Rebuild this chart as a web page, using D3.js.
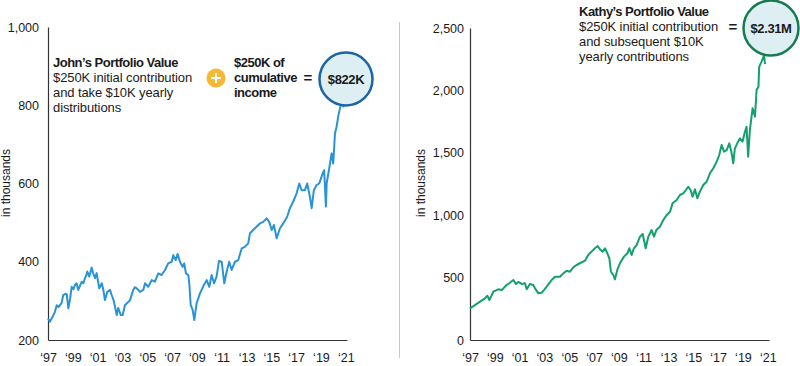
<!DOCTYPE html>
<html>
<head>
<meta charset="utf-8">
<script src="https://cdn.jsdelivr.net/npm/d3@7"></script>
<style>
  html, body { margin: 0; padding: 0; background: #fff; }
  svg { display: block; font-family: "Liberation Sans", Arial, sans-serif; }
</style>
</head>
<body>
<svg id="chart" width="800" height="366"></svg>
<script>
// ---------- DATA ----------
const xTickYears = [1997, 1999, 2001, 2003, 2005, 2007, 2009, 2011, 2013, 2015, 2017, 2019, 2021];
const leftYTicks = [200, 400, 600, 800, 1000];
const rightYTicks = [0, 500, 1000, 1500, 2000, 2500];

// John's portfolio (thousands), year -> value
const johnYears = [1997.00,1997.16,1997.35,1997.56,1997.70,1997.85,1998.10,1998.23,1998.40,1998.51,1998.64,1998.78,1998.91,1999.05,1999.18,1999.30,1999.44,1999.60,1999.72,1999.85,1999.98,2000.08,2000.17,2000.33,2000.52,2000.65,2000.79,2000.92,2001.13,2001.33,2001.45,2001.59,2001.78,2002.00,2002.13,2002.30,2002.40,2002.54,2002.66,2002.86,2003.02,2003.20,2003.40,2003.61,2003.87,2004.00,2004.15,2004.41,2004.68,2004.82,2005.08,2005.36,2005.62,2005.89,2006.16,2006.43,2006.69,2006.97,2007.10,2007.29,2007.45,2007.64,2007.85,2007.98,2008.12,2008.31,2008.40,2008.50,2008.66,2008.79,2008.98,2009.25,2009.57,2009.79,2010.00,2010.19,2010.38,2010.59,2010.78,2011.00,2011.21,2011.40,2011.61,2011.80,2012.07,2012.33,2012.61,2012.87,2013.14,2013.28,2013.54,2013.82,2014.08,2014.35,2014.62,2014.83,2015.03,2015.21,2015.43,2015.69,2015.96,2016.28,2016.50,2016.77,2017.04,2017.25,2017.44,2017.71,2017.89,2018.11,2018.25,2018.43,2018.65,2018.86,2019.14,2019.26,2019.40,2019.46,2019.67,2019.86,2019.99,2020.13,2020.26,2020.39,2020.53,2020.67,2020.85];
const johnValues = [255,247,258,272,289,284,295,315,318,317,281,305,336,330,341,345,328,340,349,345,358,365,375,362,385,370,358,371,332,345,330,302,323,328,315,300,285,264,282,264,264,289,295,302,328,335,332,323,328,345,336,353,349,370,366,379,396,400,417,404,420,400,387,396,370,366,340,290,277,251,294,319,341,353,336,366,345,362,402,400,345,375,400,379,400,404,434,438,447,473,481,490,498,502,511,502,481,494,460,485,498,515,537,554,575,600,583,583,600,566,537,583,596,600,626,634,541,600,639,677,651,728,745,771,792,805,795];

// Kathy's portfolio (thousands), year -> value
const kathyYears = [1997.00,1997.40,1997.81,1998.21,1998.40,1998.56,1998.88,1999.28,1999.55,1999.95,2000.22,2000.49,2000.70,2000.89,2001.16,2001.43,2001.57,2001.83,2002.10,2002.24,2002.51,2002.78,2002.96,2003.18,2003.58,2003.85,2004.25,2004.52,2004.79,2005.06,2005.32,2005.59,2005.86,2006.27,2006.53,2006.80,2007.07,2007.29,2007.47,2007.69,2007.88,2008.07,2008.23,2008.36,2008.55,2008.68,2008.87,2009.09,2009.41,2009.68,2009.84,2010.03,2010.21,2010.43,2010.70,2010.92,2011.02,2011.16,2011.37,2011.64,2011.83,2012.02,2012.31,2012.58,2012.85,2013.12,2013.33,2013.66,2013.92,2014.19,2014.40,2014.59,2014.78,2014.94,2015.13,2015.32,2015.53,2015.80,2016.07,2016.34,2016.61,2016.88,2017.09,2017.28,2017.47,2017.69,2017.90,2018.09,2018.22,2018.35,2018.54,2018.76,2018.97,2019.16,2019.29,2019.42,2019.56,2019.78,2019.97,2020.10,2020.25,2020.31,2020.50,2020.70,2020.78];
const kathyValues = [254,280,307,334,355,320,387,406,400,441,459,481,449,465,449,454,406,449,441,414,374,379,400,427,481,507,507,534,555,547,582,601,615,636,681,708,735,753,727,708,735,695,655,547,521,486,561,615,668,695,735,681,735,761,828,849,801,735,828,881,828,881,908,961,1002,1028,1095,1122,1162,1175,1202,1228,1202,1148,1207,1135,1189,1242,1268,1336,1376,1429,1482,1563,1509,1522,1576,1496,1416,1536,1576,1616,1590,1669,1709,1469,1683,1857,1790,2003,2030,2190,2230,2280,2210];

// ---------- DRAW ----------
const svg = d3.select("#chart");
const tickFmt = d => "\u2018" + String(d).slice(2);

function drawPanel(opts) {
  const g = svg.append("g");
  const x = d3.scaleLinear().domain([1997, 2021.1]).range([opts.x0, opts.x1]);
  const y = d3.scaleLinear().domain(opts.yDomain).range([340, opts.yTop]);

  const yAxis = g.append("g")
    .attr("transform", `translate(${opts.x0},0)`)
    .call(d3.axisLeft(y).tickValues(opts.yTicks).tickSize(0).tickPadding(opts.yPad).tickFormat(d3.format(",")));
  const xAxis = g.append("g")
    .attr("transform", `translate(0,340)`)
    .call(d3.axisBottom(x).tickValues(xTickYears).tickSize(0).tickPadding(13).tickFormat(tickFmt));
  [yAxis, xAxis].forEach(a => {
    a.select(".domain").attr("stroke", "#333").attr("stroke-width", 1.2);
    a.selectAll("text").attr("font-size", 12.5).attr("fill", "#1a1a1a")
      .attr("font-family", "'Liberation Sans', Arial, sans-serif");
  });

  g.append("text")
    .attr("transform", `translate(${opts.labelX},183) rotate(-90)`)
    .attr("text-anchor", "middle")
    .attr("font-size", 12).attr("fill", "#1a1a1a")
    .text("in thousands");

  const data = opts.years.map((t, i) => [t, opts.values[i]]);
  g.append("path")
    .datum(data)
    .attr("fill", "none")
    .attr("stroke", opts.color)
    .attr("stroke-width", 2)
    .attr("stroke-linejoin", "round")
    .attr("d", d3.line().x(d => x(d[0])).y(d => y(d[1])));
  return g;
}

drawPanel({x0: 48, x1: 347, yDomain: [200, 1000], yTop: 27, yTicks: leftYTicks, yPad: 9,
  labelX: 10, years: johnYears, values: johnValues, color: "#2a93d5"});
drawPanel({x0: 470, x1: 769, yDomain: [0, 2500], yTop: 28, yTicks: rightYTicks, yPad: 6,
  labelX: 425, years: kathyYears, values: kathyValues, color: "#13a06d"});

// divider
svg.append("line").attr("x1", 399.5).attr("x2", 399.5).attr("y1", 22).attr("y2", 358)
  .attr("stroke", "#c8c8c8").attr("stroke-width", 1);

// annotations
function lines(x, y0, arr) {
  const t = svg.append("text").attr("font-size", 13).attr("fill", "#1a1a1a");
  arr.forEach((l, i) => {
    t.append("tspan").attr("x", x).attr("y", y0 + i * 15)
      .attr("font-weight", l.b ? "bold" : "normal")
      .attr("letter-spacing", l.b ? "-0.5px" : "-0.1px")
      .text(l.t);
  });
}
lines(53, 67, [{t: "John\u2019s Portfolio Value", b: true}, {t: "$250K initial contribution"},
  {t: "and take $10K yearly"}, {t: "distributions"}]);
lines(234, 67, [{t: "$250K of", b: true}, {t: "cumulative", b: true}, {t: "income", b: true}]);
lines(579, 16, [{t: "Kathy\u2019s Portfolio Value", b: true}, {t: "$250K initial contribution"},
  {t: "and subsequent $10K"}, {t: "yearly contributions"}]);

// plus sign
svg.append("circle").attr("cx", 216).attr("cy", 78).attr("r", 9.5).attr("fill", "#f7b733");
svg.append("path").attr("d", "M211,78H221M216,73V83").attr("stroke", "#fff").attr("stroke-width", 2);

// equals
svg.append("text").attr("x", 308).attr("y", 83).attr("text-anchor", "middle").attr("font-size", 15).attr("font-weight", "bold").attr("fill", "#1a1a1a").text("=");
svg.append("text").attr("x", 733).attr("y", 32).attr("text-anchor", "middle").attr("font-size", 15).attr("font-weight", "bold").attr("fill", "#1a1a1a").text("=");

// result circles
function bubble(cx, cy, r, stroke, label) {
  svg.append("circle").attr("cx", cx).attr("cy", cy).attr("r", r)
    .attr("fill", "#ddeff3").attr("stroke", stroke).attr("stroke-width", 2.5);
  svg.append("text").attr("x", cx).attr("y", cy + 5).attr("text-anchor", "middle")
    .attr("font-size", 13).attr("font-weight", "bold").attr("letter-spacing", "-0.4px")
    .attr("fill", "#1a1a1a").text(label);
}
bubble(346, 79, 26.5, "#1c64a6", "$822K");
bubble(771, 28, 27.5, "#187a50", "$2.31M");
</script>
</body>
</html>
